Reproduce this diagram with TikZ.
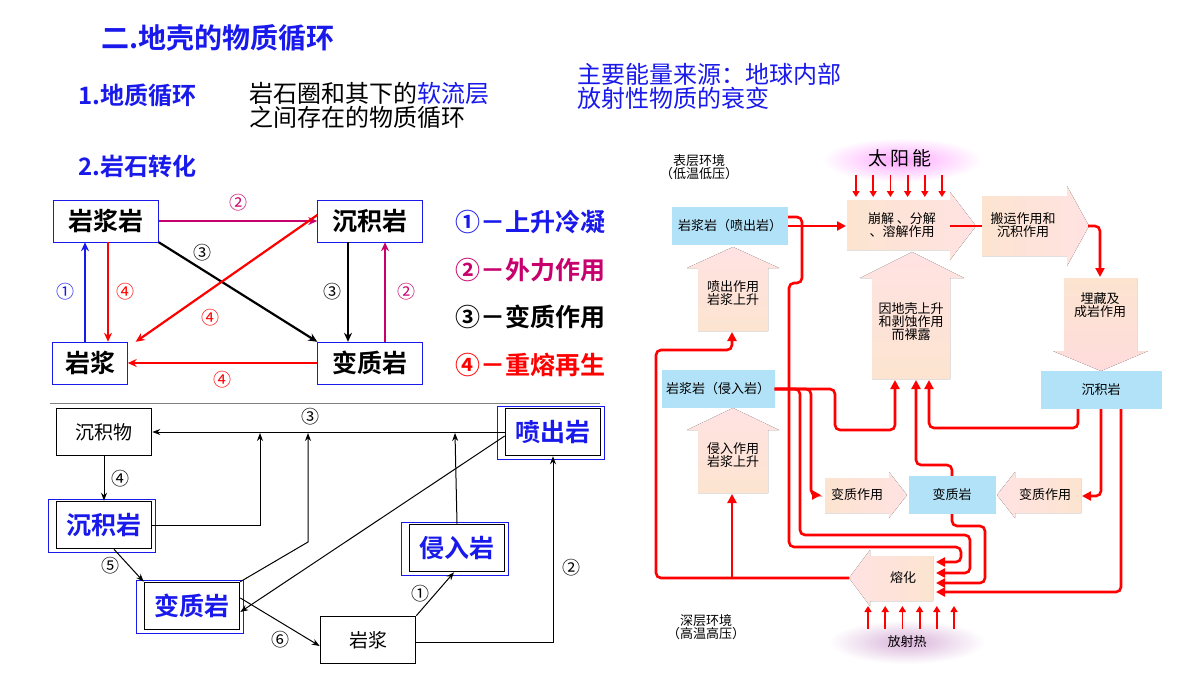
\documentclass[tikz,border=0pt]{standalone}
\usepackage{fontspec}
\setmainfont{Noto Sans CJK SC}[BoldFont={Noto Sans CJK SC Bold}]
\usetikzlibrary{arrows.meta,positioning,calc}
\definecolor{tblue}{RGB}{25,25,235}
\definecolor{tmag}{RGB}{200,0,110}
\definecolor{tred}{RGB}{255,0,0}
\definecolor{peach}{RGB}{252,228,208}
\definecolor{skyb}{RGB}{178,226,248}
\tikzset{
  fs/.style={font=\fontsize{#1}{#1}\selectfont},
  fb/.style={font=\fontsize{#1}{#1}\selectfont\bfseries},
  rock/.style={draw=tblue, thin, fb=25, minimum width=105pt, minimum height=42pt, inner sep=0pt},
  lbl/.style={fs=18, inner sep=1pt},
  arr/.style={line width=2.2pt, -{Stealth[length=9pt,width=8pt]}},
  box/.style={draw, line width=1.6pt, minimum width=95pt, minimum height=47pt, inner sep=0pt, fs=19},
  bbox/.style={box, text=tblue, fb=25},
  larr/.style={line width=1pt, -{Stealth[length=8pt,width=6pt]}},
  rl/.style={tred, line width=2.6pt, rounded corners=5pt},
  rla/.style={rl, -{Triangle[length=9pt,width=9pt]}},
  sky/.style={fill=skyb, fs=13, inner sep=0pt},
  blk/.style={left color=peach, right color=pink!45, draw=none},
  blkv/.style={top color=pink!45, bottom color=peach, draw=none},
  blkd/.style={top color=peach, bottom color=pink!55, draw=none},
  small/.style={fs=13, align=center, inner sep=0pt},
}
\begin{document}
\begin{tikzpicture}[x=1pt,y=-1pt]
\useasboundingbox (0,0) rectangle (1200,675);
\fill[white] (0,0) rectangle (1200,675);
% 标题
\node[fb=28, text=tblue, anchor=west] (title) at (98,38) {二.地壳的物质循环};
\node[fb=24, text=tblue, anchor=west] (h1) at (75,95) {1.地质循环};
\node[fs=24, anchor=west, align=left] (d1) at (246,105) {岩石圈和其下的\textcolor{tblue}{软流层}\\之间存在的物质循环};
\node[fs=24, text=tblue, anchor=west, align=left] (src) at (574,86) {主要能量来源：地球内部\\放射性物质的衰变};
\node[fb=24, text=tblue, anchor=west] (h2) at (75,166) {2.岩石转化};

% 岩石转化
\node[rock] (yjy) at (106,221) {岩浆岩};
\node[rock] (cjy) at (370,221) {沉积岩};
\node[rock, minimum width=75pt] (yj) at (90,363) {岩浆};
\node[rock] (bzy) at (370,363) {变质岩};
\draw[arr, tmag] (yjy) -- (cjy) node[midway, above=8pt, lbl] {②};
\draw[arr, black] (yjy.south east) -- (bzy.north west);
\node[lbl] (l3a) at (202,253) {③};
\draw[arr, tred] ([yshift=6pt]cjy.west) -- ([xshift=8pt]yj.north east);
\node[lbl, tred] (l4a) at (210,318) {④};
\draw[arr, black] ([xshift=-22pt]cjy.south) -- ([xshift=-22pt]bzy.north) node[midway, left=4pt, lbl] {③};
\draw[arr, tmag] ([xshift=15pt]bzy.north) -- ([xshift=15pt]cjy.south) node[midway, right=10pt, lbl] {②};
\draw[arr, tblue] ([xshift=-5pt]yj.north) -- ([xshift=-21pt]yjy.south) node[midway, left=8pt, lbl] {①};
\draw[arr, tred] ([xshift=2pt]yjy.south) -- ([xshift=18pt]yj.north) node[midway, right=6pt, lbl] {④};
\draw[arr, tred] (bzy) -- (yj) node[midway, below=6pt, lbl] {④};
% 图例
\foreach \n/\t/\c/\y in {a/①－上升冷凝/tblue/222, b/②－外力作用/tmag/270, c/③－变质作用/black/317, d/④－重熔再生/tred/365}
  \node[fb=25, text=\c, anchor=west] (leg\n) at (452,\y) {\t};

\draw[gray, line width=1pt] (50,403) -- (600,403);

% 岩石循环
\node[box] (cjw) at (104,432) {沉积物};
\node[bbox] (cjy2) at (104,525) {沉积岩};
\node[bbox] (bzy2) at (192,606) {变质岩};
\node[box] (yj2) at (368,640) {岩浆};
\node[bbox] (qry) at (457,548) {侵入岩};
\node[bbox] (pcy) at (553,432) {喷出岩};
\foreach \b in {cjy2,bzy2,qry,pcy}
  \draw[tblue, thin] ([shift={(-8pt,-3pt)}]\b.south west) rectangle ([shift={(3pt,2pt)}]\b.north east);
\draw[larr] (pcy) -- (cjw);
\draw[larr] (cjy2.east) -| (260,433);
\draw[larr] (bzy2.north east) -- (308,542) -- (308,433);
\draw[larr] (qry.north) -- (455,433);
\draw[larr] ([yshift=-4pt]pcy.west) -- ([yshift=-6pt]bzy2.east);
\draw[larr] (cjw) -- (cjy2) node[midway, right=6pt, lbl] {④};
\draw[larr] ([xshift=10pt]cjy2.south) -- (bzy2.north west) node[midway, left=8pt, lbl] {⑤};
\draw[larr] ([yshift=8pt]bzy2.east) -- ([yshift=-6pt]yj2.west) node[midway, below=8pt, lbl] {⑥};
\draw[larr] (yj2.north east) -- ([xshift=-3pt]qry.south) node[midway, left=4pt, lbl] {①};
\draw[larr] ([yshift=-2pt]yj2.east) -| (pcy.south) node[pos=0.7, right=8pt, lbl] {②};
\node[lbl] (l3b) at (310,417) {③};

% 右图
\shade[inner color=magenta!35, outer color=white] (902,160) ellipse (80pt and 22pt);
\shade[inner color=violet!30, outer color=white] (907,642) ellipse (78pt and 22pt);
\node[fs=19] (sun) at (900,158) {太\,阳\,能};
\node[fs=13] (rad) at (907,642) {放射热};
\node[small] (surf) at (699,167) {表层环境\\（低温低压）};
\node[small] (deep) at (706,627) {深层环境\\（高温高压）};
\foreach \i in {0,...,5} {
  \draw[rla, line width=1.8pt, -{Triangle[length=6pt,width=7pt]}] (856+\i*17.2,175) -- (856+\i*17.2,197);
  \draw[rla, line width=1.8pt, -{Triangle[length=6pt,width=7pt]}] (868+\i*17.2,629) -- (868+\i*17.2,606);
}
% 块状箭头
\fill[blk] (847,200) -- (950,200) -- (950,192) -- (976,226) -- (950,260) -- (950,250) -- (847,250) -- cycle;
\fill[blk] (982,196) -- (1067,196) -- (1067,186) -- (1089,226) -- (1067,266) -- (1067,256) -- (982,256) -- cycle;
\fill[blkd] (1064,278) -- (1137,278) -- (1137,351) -- (1148,351) -- (1101,371) -- (1053,351) -- (1064,351) -- cycle;
\fill[blkv] (698,331) -- (698,268) -- (687,268) -- (733,247) -- (779,268) -- (768,268) -- (768,331) -- cycle;
\fill[blkv] (698,493) -- (698,430) -- (687,430) -- (733,408) -- (779,430) -- (768,430) -- (768,493) -- cycle;
\fill[blkv] (872,379) -- (872,278) -- (860,278) -- (912,252) -- (964,278) -- (950,278) -- (950,379) -- cycle;
\fill[left color=peach, right color=pink!45] (825,478) -- (889,478) -- (889,472) -- (907,495) -- (889,518) -- (889,513) -- (825,513) -- cycle;
\fill[left color=pink!45, right color=peach] (1081,478) -- (1015,478) -- (1015,472) -- (997,495) -- (1015,518) -- (1015,513) -- (1081,513) -- cycle;
\fill[left color=pink!45, right color=peach] (933,556) -- (870,556) -- (870,550) -- (849,578) -- (870,606) -- (870,601) -- (933,601) -- cycle;
\node[small] (bj) at (902,225) {崩解 、分解\\、溶解作用};
\node[small] (by) at (1023,225) {搬运作用和\\沉积作用};
\node[small] (mc) at (1100,305) {埋藏及\\成岩作用};
\node[small] (pczy) at (733,293) {喷出作用\\岩浆上升};
\node[small] (qrzy) at (733,455) {侵入作用\\岩浆上升};
\node[small, align=center] (dk) at (911,322) {因地壳上升\\和剥蚀作用\\而裸露};
\node[small] (bz1) at (857,495) {变质作用};
\node[small] (bz2) at (1045,495) {变质作用};
\node[small] (rh) at (903,578) {熔化};
\node[sky, minimum width=116pt, minimum height=38pt] (pc) at (730,226) {岩浆岩（喷出岩）};
\node[sky, minimum width=113pt, minimum height=38pt] (qr) at (718,389) {岩浆岩（侵入岩）};
\node[sky, minimum width=121pt, minimum height=38pt] (cj) at (1101,390) {沉积岩};
\node[sky, minimum width=87pt, minimum height=38pt] (bz) at (952,495) {变质岩};
% 红色连线
\draw[rla] (pc.east) -- (846,226);
\draw[rl] (950,226) -- (982,226);
\draw[rla] (1088,226) -| (1100,277);
\draw[rla] ([yshift=9pt]pc.east) -| (802,283) -- (789,283) -- (789,547) -| (961,562) -- (936,562);
\draw[rla] (qr.east) -| (835,430) -| (895,380);
\draw[rla] (qr.east) -- (800,389) |- (970,535) |- (936,573);
\draw[rla] (qr.east) -- (811,389) |- (821,495);
\draw[rla] (bz.north) |- (916,465) -- (916,380);
\draw[rla] (bz.south) |- (985,526) |- (936,583);
\draw[rla] ([xshift=-23pt]cj.south) |- (929,428) -- (929,380);
\draw[rla] (cj.south) |- (1082,496);
\draw[rla] ([xshift=20pt]cj.south) |- (936,592);
\draw[rla] (849,578) -| (656,350) -| (732,332);
\draw[rla] (732,578) -- (732,494);
\end{tikzpicture}
\end{document}
